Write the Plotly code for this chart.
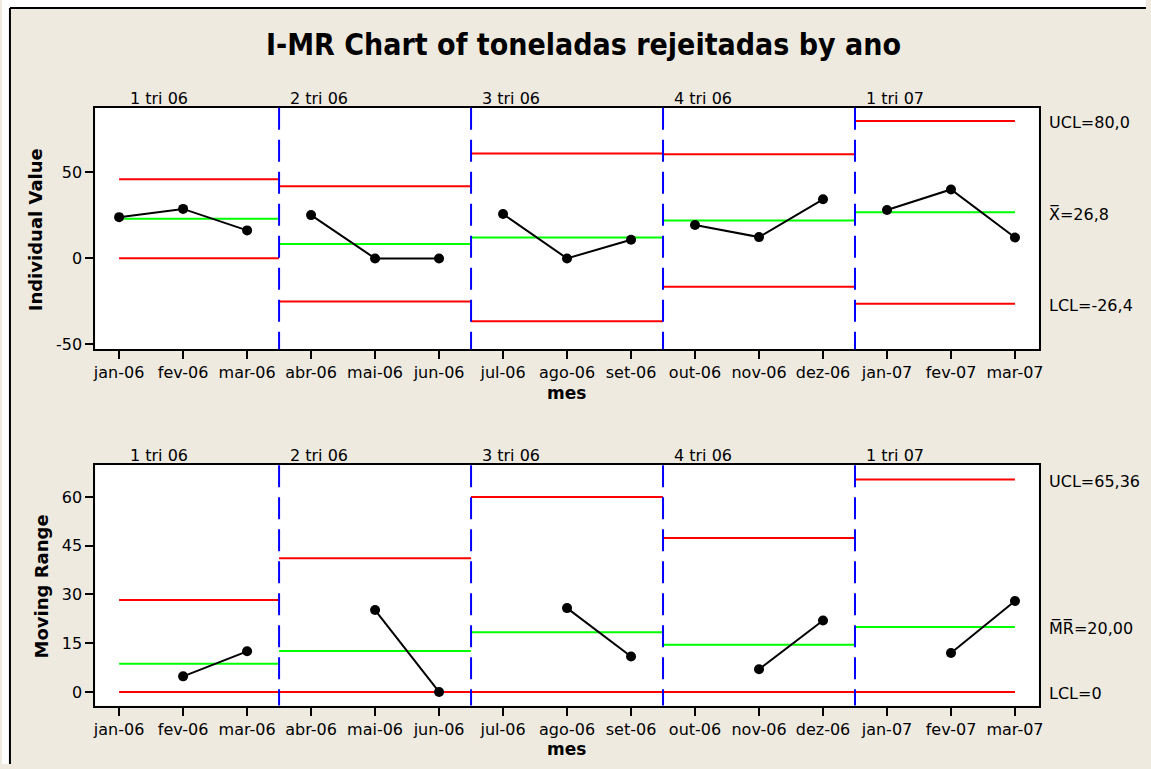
import plotly.graph_objects as go

# --- data -------------------------------------------------------------
months = ["jan-06", "fev-06", "mar-06", "abr-06", "mai-06", "jun-06",
          "jul-06", "ago-06", "set-06", "out-06", "nov-06", "dez-06",
          "jan-07", "fev-07", "mar-07"]
stage_names = ["1 tri 06", "2 tri 06", "3 tri 06", "4 tri 06", "1 tri 07"]
toneladas = [24.0, 28.8, 16.3,
             25.2, 0.0, 0.0,
             25.8, 0.0, 10.9,
             19.4, 12.4, 34.4,
             28.136, 40.128, 12.128]
months_per_stage = 3
ind_ticks = [-50, 0, 50]
mr_ticks = [0, 15, 30, 45, 60]

# control chart constants for moving ranges of span 2
D2 = 1.128
D3 = 0.853

W, H = 1151, 769
BG = "#EEEAE0"
FONT = "DejaVu Sans"
RED = "#FF0000"
GREEN = "#00FF00"
BLUE = "#0000FF"

x_idx = list(range(len(months)))
n_stages = len(stage_names)

# --- per-stage statistics ---------------------------------------------
stages = []
for s in range(n_stages):
    idx = x_idx[s * months_per_stage:(s + 1) * months_per_stage]
    vals = [toneladas[i] for i in idx]
    mr = [abs(vals[k] - vals[k - 1]) for k in range(1, len(vals))]
    mean = sum(vals) / len(vals)
    mrbar = sum(mr) / len(mr)
    sigma = mrbar / D2
    left = idx[0] if s == 0 else idx[0] - 0.5
    right = idx[-1] if s == n_stages - 1 else idx[-1] + 0.5
    stages.append(dict(
        idx=idx, vals=vals, mr=mr, mean=mean, mrbar=mrbar,
        ucl=mean + 3 * sigma, lcl=mean - 3 * sigma,
        mr_ucl=mrbar + 3 * D3 * sigma, mr_lcl=max(0.0, mrbar - 3 * D3 * sigma),
        left=left, right=right))


def fmt(v, nd):
    return f"{v:.{nd}f}".replace(".", ",")


fig = go.Figure()


def hline(x0, x1, y, color, xa, ya):
    fig.add_trace(go.Scatter(x=[x0, x1], y=[y, y], mode="lines",
                             line=dict(color=color, width=2),
                             xaxis=xa, yaxis=ya, hoverinfo="skip",
                             showlegend=False))


for st in stages:
    # Individuals chart
    hline(st["left"], st["right"], st["ucl"], RED, "x", "y")
    hline(st["left"], st["right"], st["lcl"], RED, "x", "y")
    hline(st["left"], st["right"], st["mean"], GREEN, "x", "y")
    fig.add_trace(go.Scatter(x=st["idx"], y=st["vals"], mode="lines+markers",
                             line=dict(color="black", width=2),
                             marker=dict(color="black", size=10),
                             xaxis="x", yaxis="y", showlegend=False))
    # Moving range chart
    hline(st["left"], st["right"], st["mr_ucl"], RED, "x2", "y2")
    hline(st["left"], st["right"], st["mr_lcl"], RED, "x2", "y2")
    hline(st["left"], st["right"], st["mrbar"], GREEN, "x2", "y2")
    fig.add_trace(go.Scatter(x=st["idx"][1:], y=st["mr"], mode="lines+markers",
                             line=dict(color="black", width=2),
                             marker=dict(color="black", size=10),
                             xaxis="x2", yaxis="y2", showlegend=False))

# --- axes -------------------------------------------------------------
def px_x(p):
    return p / W


def px_y(p):
    return 1 - p / H


TOP_SHIFT = 2.5
BOT_SHIFT = 4.5
x_dom = [px_x(94), px_x(1043)]
top_dom = [px_y(349 + TOP_SHIFT), px_y(106 + TOP_SHIFT)]
bot_dom = [px_y(705.7 + BOT_SHIFT), px_y(463.7 + BOT_SHIFT)]
xr = [-0.37, len(months) - 1 + 0.37]

axis_common = dict(showline=True, mirror=True, linecolor="black", linewidth=2,
                   ticks="outside", ticklen=8, tickwidth=2, tickcolor="black",
                   showgrid=False, zeroline=False,
                   tickfont=dict(family=FONT, size=16, color="black"))

fig.update_layout(
    width=W, height=H,
    margin=dict(l=0, r=0, t=0, b=0),
    paper_bgcolor=BG, plot_bgcolor="white",
    showlegend=False,
    xaxis=dict(domain=x_dom, range=xr, tickvals=x_idx, ticktext=months,
               anchor="y", **axis_common),
    yaxis=dict(domain=top_dom, range=[-52.8, 87.6], tickvals=ind_ticks,
               ticktext=[str(t) for t in ind_ticks], anchor="x", **axis_common),
    xaxis2=dict(domain=x_dom, range=xr, tickvals=x_idx, ticktext=months,
                anchor="y2", **axis_common),
    yaxis2=dict(domain=bot_dom, range=[-4.2, 69.8], tickvals=mr_ticks,
                ticktext=[str(t) for t in mr_ticks], anchor="x2", **axis_common),
)

shapes = []
# white margin strips and the outer frame (top and left edges)
shapes.append(dict(type="rect", xref="paper", yref="paper", x0=0, x1=px_x(8),
                   y0=0, y1=1, fillcolor="white", line=dict(width=0), layer="below"))
shapes.append(dict(type="rect", xref="paper", yref="paper", x0=0, x1=1,
                   y0=px_y(8), y1=1, fillcolor="white", line=dict(width=0), layer="below"))
shapes.append(dict(type="line", xref="paper", yref="paper", x0=px_x(8), x1=1,
                   y0=px_y(8), y1=px_y(8), line=dict(color="black", width=2), layer="below"))
shapes.append(dict(type="line", xref="paper", yref="paper", x0=px_x(8), x1=px_x(8),
                   y0=0, y1=px_y(8), line=dict(color="black", width=2), layer="below"))

# stage separators
for st in stages[1:]:
    for xa, ya in (("x", "y domain"), ("x2", "y2 domain")):
        shapes.append(dict(type="line", xref=xa, yref=ya, x0=st["left"], x1=st["left"],
                           y0=1, y1=0, line=dict(color=BLUE, width=2, dash="22px,10px")))
fig.update_layout(shapes=shapes)

ann = []
txt = dict(family=FONT, size=16, color="black")
for name, st in zip(stage_names, stages):
    for xa, ya in (("x", "y domain"), ("x2", "y2 domain")):
        ann.append(dict(text=name, xref=xa, yref=ya, x=st["left"], y=1,
                        xanchor="left", yanchor="bottom", xshift=9, yshift=-2,
                        showarrow=False, font=txt))

last = stages[-1]
lab_x = px_x(1051)
right_labels = [
    ("y", last["ucl"], f"UCL={fmt(last['ucl'], 1)}"),
    ("y", last["mean"], f"X\u0305={fmt(last['mean'], 1)}"),
    ("y", last["lcl"], f"LCL={fmt(last['lcl'], 1)}"),
    ("y2", last["mr_ucl"], f"UCL={fmt(last['mr_ucl'], 2)}"),
    ("y2", last["mrbar"], f"M\u0305R\u0305={fmt(last['mrbar'], 2)}"),
    ("y2", last["mr_lcl"], f"LCL={fmt(last['mr_lcl'], 0)}"),
]
for ya, yv, t in right_labels:
    ann.append(dict(text=t, xref="paper", yref=ya, x=lab_x, y=yv,
                    xanchor="left", yanchor="middle", yshift=-2,
                    showarrow=False, font=txt))

bold = dict(family=FONT, size=18, color="black", weight="bold")
ann.append(dict(text="Individual Value", textangle=-90, xref="paper", yref="paper",
                x=px_x(34.5), y=px_y(229 + TOP_SHIFT), xanchor="center", yanchor="middle",
                showarrow=False, font=bold))
ann.append(dict(text="Moving Range", textangle=-90, xref="paper", yref="paper",
                x=px_x(40), y=px_y(586 + BOT_SHIFT), xanchor="center", yanchor="middle",
                showarrow=False, font=bold))
ann.append(dict(text="mes", xref="paper", yref="paper", x=px_x(567.5), y=px_y(393 + TOP_SHIFT),
                xanchor="center", yanchor="middle", showarrow=False,
                font=dict(bold, size=17)))
ann.append(dict(text="mes", xref="paper", yref="paper", x=px_x(567.5), y=px_y(749 + BOT_SHIFT),
                xanchor="center", yanchor="middle", showarrow=False,
                font=dict(bold, size=17)))
ann.append(dict(text="I-MR Chart of toneladas rejeitadas by ano",
                xref="paper", yref="paper", x=px_x(585), y=px_y(45),
                xanchor="center", yanchor="middle", showarrow=False,
                font=dict(family="DejaVu Sans Condensed, " + FONT, size=30,
                          color="black", weight="bold")))
fig.update_layout(annotations=ann)

fig.write_html("out.html", config={"displayModeBar": False})

# keep the page itself free of margins and scrollbars
with open("out.html", encoding="utf-8") as f:
    page = f.read()
page = page.replace("<head>", "<head><style>html,body{margin:0;padding:0;overflow:hidden}</style>", 1)
with open("out.html", "w", encoding="utf-8") as f:
    f.write(page)
